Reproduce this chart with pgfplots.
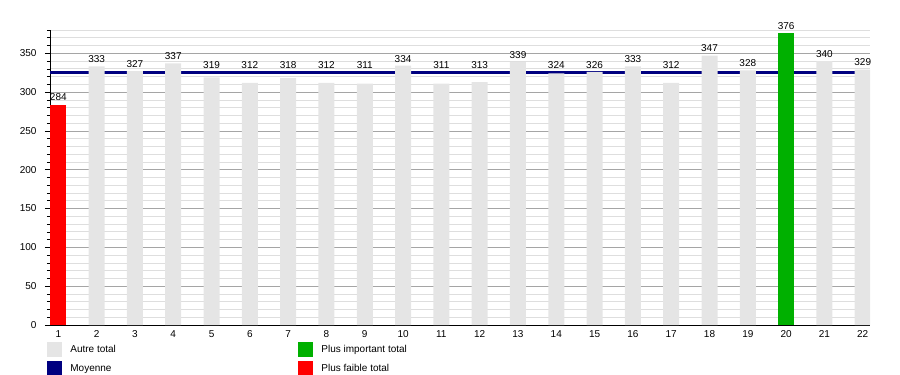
\documentclass[border=0pt]{standalone}
\usepackage{fontspec}
\setmainfont{Liberation Sans}
\usepackage{pgfplots}
\pgfplotsset{compat=1.18}
\definecolor{barGray}{RGB}{229,229,229}
\definecolor{barGreen}{RGB}{0,176,0}
\definecolor{barRed}{RGB}{255,0,0}
\definecolor{meanBlue}{RGB}{0,0,128}
\definecolor{majGrid}{RGB}{165,165,165}
\definecolor{minGrid}{RGB}{222,222,222}
\begin{document}
\begin{tikzpicture}[font=\fontsize{10}{12}\selectfont]
\begin{axis}[
  at={(0,0)}, anchor=south west,
  scale only axis, width=820pt, height=295pt,
  xmin=0.783, xmax=22.19, ymin=0, ymax=380,
  axis x line*=bottom, axis y line*=left,
  axis line style={black, line width=0.8pt},
  xtick={1,...,22}, ytick={0,50,...,350},
  minor ytick={0,10,...,380},
  ymajorgrids, yminorgrids,
  major grid style={majGrid, line width=0.7pt},
  minor grid style={minGrid, line width=0.7pt},
  tick align=outside, major tick length=5pt, minor tick length=3pt,
  xtick style={draw=none},
  ytick style={black, line width=0.6pt},
  yminorticks=true,
  ybar, bar width=16pt, bar shift=0pt,
  /pgf/number format/assume math mode=true,
  tick label style={font=\fontsize{10}{12}\selectfont, black},
  yticklabel style={xshift=-5pt},
  xticklabel style={yshift=3pt},
  nodes near coords style={font=\fontsize{10}{12}\selectfont, black},
  legend columns=2,
  legend cell align=left,
  legend style={at={(0,0)}, anchor=north west, xshift=-3pt, yshift=-17pt,
    draw=none, fill=none, inner sep=0pt, outer sep=0pt, row sep=5pt,
    font=\fontsize{10}{12}\selectfont,
    /tikz/every odd column/.append style={column sep=7pt},
    /tikz/every even column/.append style={column sep=180pt}},
]
% mean line (behind bars)
\addplot[sharp plot, meanBlue, line width=3.3pt, forget plot]
  coordinates {(0.783,325.7) (22.19,325.7)};
% other totals above the mean: labelled on the bar
\addplot[fill=barGray, draw=none, forget plot, nodes near coords]
  coordinates {(2,333) (3,327) (4,337) (10,334) (13,339) (15,326) (16,333)
  (18,347) (19,328) (21,340) (22,329)};
% other totals below the mean: bars
\addplot[fill=barGray, draw=none, forget plot]
  coordinates {(5,319) (6,312) (7,318) (8,312) (9,311) (11,311) (12,313)
  (14,324) (17,312)};
% their labels sit just above the mean line
\addplot[draw=none, fill=none, forget plot, nodes near coords,
  point meta=explicit symbolic]
  coordinates {(5,325.7) [319] (6,325.7) [312] (7,325.7) [318] (8,325.7) [312]
  (9,325.7) [311] (11,325.7) [311] (12,325.7) [313] (14,325.7) [324]
  (17,325.7) [312]};
% highest
\addplot[fill=barGreen, draw=none, forget plot, nodes near coords]
  coordinates {(20,376)};
% lowest
\addplot[fill=barRed, draw=none, forget plot, nodes near coords]
  coordinates {(1,284)};
\addlegendimage{legend image code/.code={\fill[barGray] (0pt,-7pt) rectangle (14pt,7pt);}}
\addlegendentry{Autre total}
\addlegendimage{legend image code/.code={\fill[barGreen] (0pt,-7pt) rectangle (14pt,7pt);}}
\addlegendentry{Plus important total}
\addlegendimage{legend image code/.code={\fill[meanBlue] (0pt,-7pt) rectangle (14pt,7pt);}}
\addlegendentry{Moyenne}
\addlegendimage{legend image code/.code={\fill[barRed] (0pt,-7pt) rectangle (14pt,7pt);}}
\addlegendentry{Plus faible total}
\end{axis}
\pgfresetboundingbox
\path[use as bounding box] (-50pt,-50pt) rectangle (850pt,325pt);
\end{tikzpicture}
\end{document}
